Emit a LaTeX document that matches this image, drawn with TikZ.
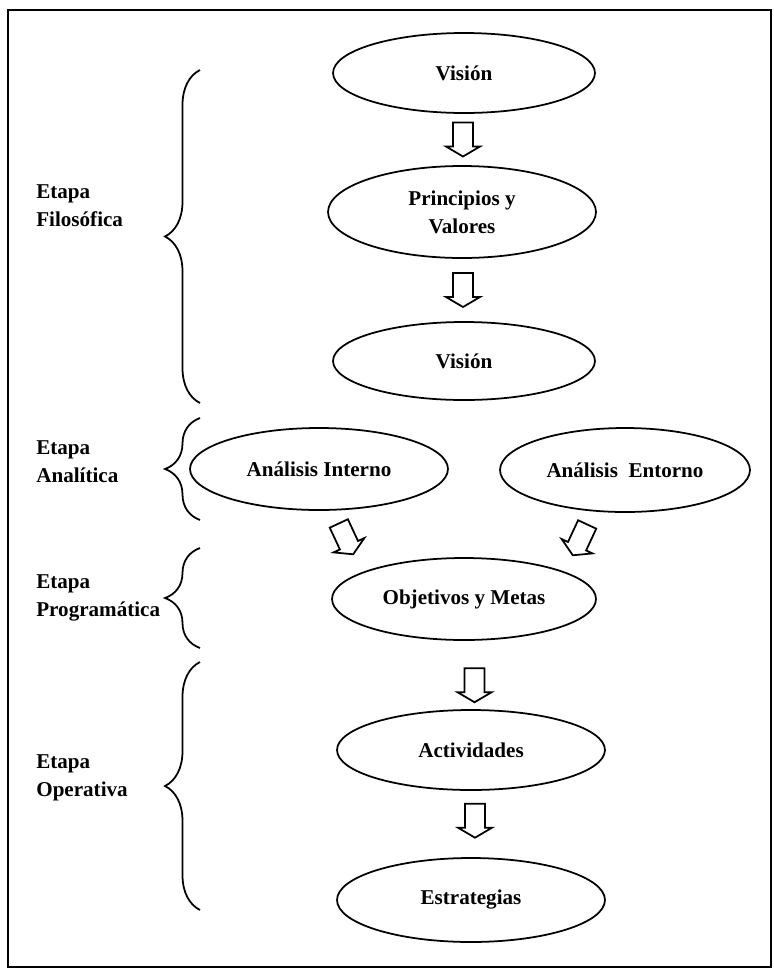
\documentclass[tikz,border=0pt]{standalone}
\usepackage{fontspec}
\setmainfont{Liberation Serif}
\usetikzlibrary{shapes.geometric, decorations.pathreplacing, calc, positioning}

\tikzset{
  etapa/.style={ellipse, draw, line width=1pt, inner sep=0pt, align=center,
    font=\bfseries\fontsize{12}{16}\selectfont},
  rotulo/.style={anchor=west, align=left, inner sep=0pt,
    font=\bfseries\fontsize{12}{16}\selectfont},
  llave/.style={decorate, decoration={brace, amplitude=0.7cm}, line width=1pt},
  flecha/.pic={\draw[line width=1pt] (-10,-17) -- (-10,7) -- (-17,7) -- (0,17)
    -- (17,7) -- (10,7) -- (10,-17) -- cycle;}
}

\begin{document}
\begin{tikzpicture}[x=0.02cm, y=-0.02cm]
  \useasboundingbox (0,0) rectangle (774,971);
  \draw[line width=1pt] (8,10) rectangle (771,967);

  % elipses
  \node[etapa, minimum width=5.24cm, minimum height=1.6cm] (v1) at (464,73) {Visión};
  \node[etapa, minimum width=5.36cm, minimum height=1.84cm] (pv) at (462,212) {Principios y\\Valores};
  \node[etapa, minimum width=5.24cm, minimum height=1.56cm] (v2) at (464,361) {Visión};
  \node[etapa, minimum width=5.16cm, minimum height=1.64cm] (ai) at (319,469) {Análisis Interno};
  \node[etapa, minimum width=5.0cm, minimum height=1.68cm] (ae) at (625,470) {Análisis~~Entorno};
  \node[etapa, minimum width=5.28cm, minimum height=1.64cm] (om) at (464,599) {Objetivos y Metas};
  \node[etapa, minimum width=5.36cm, minimum height=1.6cm] (act) at (471,750) {Actividades};
  \node[etapa, minimum width=5.36cm, minimum height=1.68cm] (est) at (471,900) {Estrategias};

  % flechas
  \pic at ($(v1.south)!0.5!(pv.north)$) {flecha};
  \pic at ($(pv.south)!0.5!(v2.north)$) {flecha};
  \pic[rotate=25] at ($(ai.south)+(27,28)$) {flecha};
  \pic[rotate=-25] at ($(ae.south)+(-45,27)$) {flecha};
  \pic at ($(om.south)!0.65!(act.north)+(6,0)$) {flecha};
  \pic at ($(act.south)!0.45!(est.north)+(4,0)$) {flecha};

  % etapas
  \node[rotulo] (fil) at (36,206) {Etapa\\Filosófica};
  \node[rotulo] (ana) at (36,462) {Etapa\\Analítica};
  \node[rotulo] (pro) at (36,598) {Etapa\\Programática};
  \node[rotulo] (ope) at (36,778) {Etapa\\Operativa};

  \draw[llave] (200,403) -- (200,70);
  \draw[llave] (200,520) -- (200,418);
  \draw[llave] (200,648) -- (200,548);
  \draw[llave] (200,910) -- (200,662);
\end{tikzpicture}
\end{document}
